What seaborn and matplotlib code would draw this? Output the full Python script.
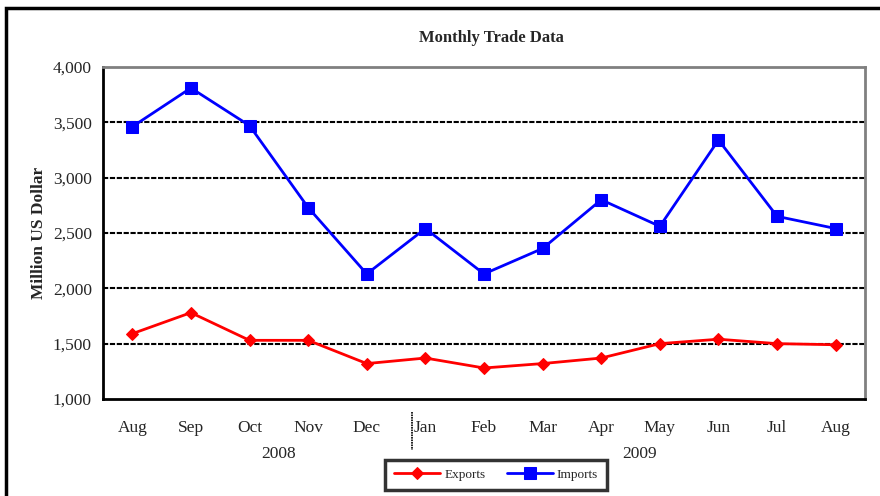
import matplotlib
matplotlib.use("Agg")
import matplotlib.pyplot as plt
import matplotlib.ticker as ticker
from matplotlib.patches import Rectangle
import pandas as pd
import seaborn as sns

months = ["Aug", "Sep", "Oct", "Nov", "Dec", "Jan", "Feb", "Mar", "Apr", "May", "Jun", "Jul", "Aug"]
exports = [1590, 1780, 1530, 1530, 1320, 1370, 1280, 1320, 1370, 1500, 1540, 1500, 1490]
imports = [3460, 3810, 3470, 2730, 2130, 2540, 2130, 2360, 2800, 2560, 3340, 2650, 2540]
years = ["2008", "2009"]

sns.set_style("white")
plt.rcParams["font.family"] = ["Liberation Serif", "DejaVu Serif"]

df = pd.DataFrame({"pos": range(len(months)), "Exports": exports, "Imports": imports})

fig = plt.figure(figsize=(8.8, 4.96), dpi=100)
ax = fig.add_axes([0.117, 0.1956, 0.866, 0.6694])

sns.lineplot(data=df, x="pos", y="Exports", ax=ax, color="#ff0000", marker="D",
             markersize=6, markeredgecolor="#ff0000", linewidth=2, label="Exports")
sns.lineplot(data=df, x="pos", y="Imports", ax=ax, color="#0000ff", marker="s",
             markersize=9, markeredgecolor="#0000ff", linewidth=2, label="Imports")

ax.set_xlim(-0.5, len(months) - 0.5)
ax.set_ylim(1000, 4000)
ax.yaxis.set_major_locator(ticker.MultipleLocator(500))
ax.yaxis.set_major_formatter(ticker.FuncFormatter(lambda v, p: "{:,.0f}".format(v)))
for v in range(1500, 4000, 500):
    ax.axhline(v, color="black", linestyle=(0, (2.5, 0.8)), linewidth=1.5, zorder=0)

ax.set_xticks([i - 0.5 for i in range(len(months) + 1)])
ax.set_xticklabels([])
ax.set_xticks(range(len(months)), minor=True)
ax.set_xticklabels(months, minor=True, fontsize=12.5)
ax.tick_params(axis="x", which="major", length=5, width=1.5, direction="out", color="black")
ax.tick_params(axis="x", which="minor", length=0, pad=15)
ax.tick_params(axis="y", length=5, width=1.5, direction="out", color="black", labelsize=12.5, pad=3)
ax.set_xlabel("")
ax.set_ylabel("Million US Dollar", fontsize=12.5, fontweight="bold", labelpad=4)

for s in ["left", "bottom"]:
    ax.spines[s].set_color("black")
    ax.spines[s].set_linewidth(2)
for s in ["top", "right"]:
    ax.spines[s].set_color("#808080")
    ax.spines[s].set_linewidth(2)

# year labels and separator
xt = ax.get_xaxis_transform()
ax.text(2.5, -0.165, years[0], transform=xt, ha="center", va="center", fontsize=12.5)
ax.text(8.65, -0.165, years[1], transform=xt, ha="center", va="center", fontsize=12.5)
ax.plot([4.78, 4.78], [-0.04, -0.155], transform=xt, color="black",
        linestyle=(0, (1, 0.5)), linewidth=1.2, clip_on=False)

fig.text(0.558, 0.923, "Monthly Trade Data", ha="center", va="center", fontsize=12, fontweight="bold")

leg = ax.legend(loc="center", ncol=2, frameon=True, fancybox=False, fontsize=9.5, handlelength=3.5,
                columnspacing=1.6, borderpad=0.7, handletextpad=0.3)
leg.set_bbox_to_anchor((0.5637, 0.0425), transform=fig.transFigure)
leg.get_frame().set_edgecolor("black")
leg.get_frame().set_linewidth(2.5)

fig.patches.append(Rectangle((0.007, -0.1), 1.1, 1.1 - 8 / 496, transform=fig.transFigure,
                             fill=False, edgecolor="black", linewidth=2.5))

fig.savefig("out.png", dpi=100)
